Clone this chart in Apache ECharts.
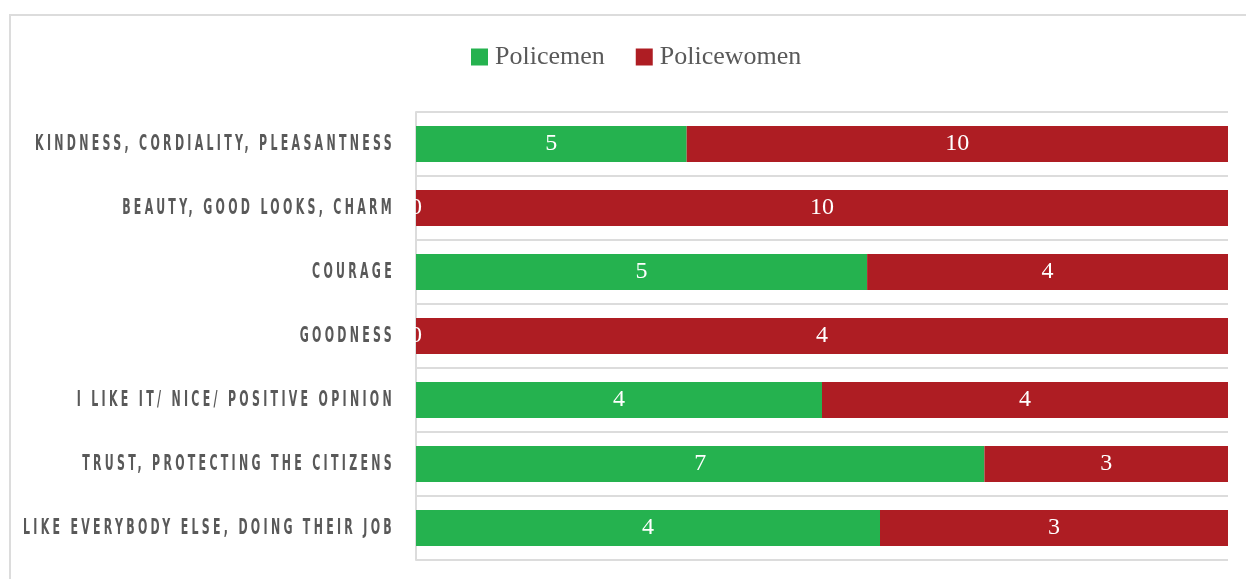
<!DOCTYPE html>
<html>
<head>
<meta charset="utf-8">
<script src="https://cdn.jsdelivr.net/npm/echarts@6/dist/echarts.min.js"></script>
<style>
  html, body { margin: 0; padding: 0; background: #ffffff; }
  #chart { width: 1246px; height: 579px; }
</style>
</head>
<body>
<div id="chart"></div>
<script>
// Survey answers, top to bottom
const categories = [
  'KINDNESS, CORDIALITY, PLEASANTNESS',
  'BEAUTY, GOOD LOOKS, CHARM',
  'COURAGE',
  'GOODNESS',
  'I LIKE IT/ NICE/ POSITIVE OPINION',
  'TRUST, PROTECTING THE CITIZENS',
  'LIKE EVERYBODY ELSE, DOING THEIR JOB'
];
const seriesNames = ['Policemen', 'Policewomen'];
const policemen = [5, 0, 5, 0, 4, 7, 4];
const policewomen = [10, 10, 4, 4, 4, 3, 3];

const GREEN = '#25b24f';
const RED = '#ae1d23';
const GRID_GREY = '#dcdcdc';
const LABEL_FAMILY = 'DejaVu Sans';

// Category labels are set in a tall, narrow, letter-spaced style:
// squeeze the glyphs horizontally and open up the tracking.
(function () {
  const proto = CanvasRenderingContext2D.prototype;
  const baseFill = proto.fillText;
  proto.fillText = function (text, x, y, maxWidth) {
    if (this.font && this.font.indexOf(LABEL_FAMILY) !== -1) {
      this.save();
      this.translate(x, y);
      this.scale(0.5, 1);
      this.letterSpacing = '6.6px';
      baseFill.call(this, text, 0, 0);
      this.restore();
      return;
    }
    return maxWidth === undefined
      ? baseFill.call(this, text, x, y)
      : baseFill.call(this, text, x, y, maxWidth);
  };
})();

// Each row is drawn as a 100% stacked bar; labels show the counts.
function shares(values, others) {
  return values.map((v, i) => ({ value: v / (v + others[i]), count: v }));
}

const chart = echarts.init(document.getElementById('chart'), null, { renderer: 'canvas' });

const barLabel = {
  show: true,
  position: 'inside',
  color: '#ffffff',
  fontFamily: "'Liberation Serif', serif",
  fontSize: 24,
  formatter: p => String(p.data.count)
};

chart.setOption({
  animation: false,
  backgroundColor: '#ffffff',
  graphic: [{
    type: 'rect',
    silent: true,
    shape: { x: 10, y: 15, width: 1400, height: 800 },
    style: { fill: 'none', stroke: GRID_GREY, lineWidth: 2 }
  }],
  legend: {
    left: 466,
    top: 39,
    itemWidth: 17,
    itemHeight: 17,
    itemGap: 31,
    icon: 'rect',
    textStyle: {
      color: '#595959',
      fontFamily: "'Liberation Serif', serif",
      fontSize: 26,
      padding: [0, 0, 0, 2]
    },
    data: seriesNames
  },
  grid: {
    left: 416, right: 18, top: 112, bottom: 19,
    containLabel: false,
    outerBoundsMode: 'none'
  },
  xAxis: {
    type: 'value',
    min: 0,
    max: 1,
    show: false
  },
  yAxis: {
    type: 'category',
    inverse: true,
    data: categories,
    axisTick: { show: false },
    axisLine: { show: true, lineStyle: { color: GRID_GREY, width: 2 } },
    splitLine: { show: true, lineStyle: { color: GRID_GREY, width: 2 } },
    axisLabel: {
      margin: 21,
      color: '#595959',
      fontFamily: LABEL_FAMILY,
      fontWeight: 'bold',
      fontSize: 22,
      hideOverlap: false
    }
  },
  series: [
    {
      name: seriesNames[0],
      type: 'bar',
      stack: 'total',
      barCategoryGap: '44%',
      itemStyle: { color: GREEN },
      label: barLabel,
      data: shares(policemen, policewomen)
    },
    {
      name: seriesNames[1],
      type: 'bar',
      stack: 'total',
      barCategoryGap: '44%',
      itemStyle: { color: RED },
      label: barLabel,
      data: shares(policewomen, policemen)
    }
  ]
});
</script>
</body>
</html>
